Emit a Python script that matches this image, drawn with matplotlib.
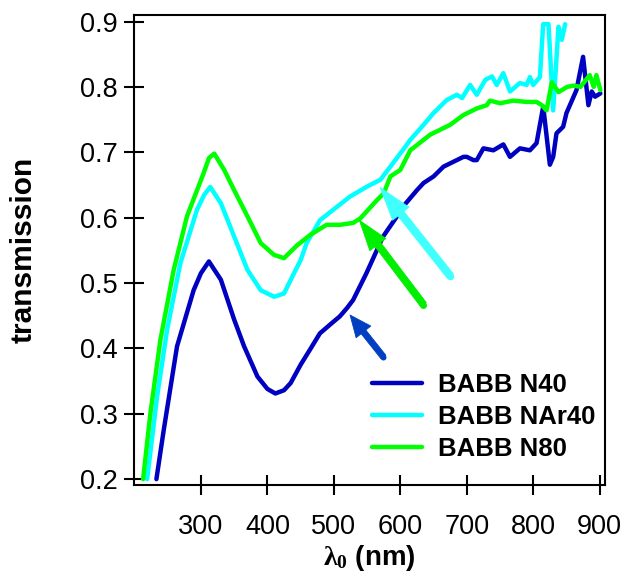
import matplotlib
matplotlib.use("Agg")
import matplotlib.pyplot as plt

plt.rcParams['font.family'] = ['Liberation Sans', 'DejaVu Sans']
plt.rcParams['mathtext.fontset'] = 'custom'
plt.rcParams['mathtext.bf'] = 'Liberation Serif:bold'
plt.rcParams['mathtext.rm'] = 'Liberation Serif'

# ---- data ----
n40_x = [233, 244, 264, 289, 300, 312, 330, 350, 365, 385, 400, 412, 425, 435, 450,
         464, 479, 495, 509, 520, 529, 549, 574, 595, 600, 625, 635, 650, 665, 675,
         685, 695, 700, 710, 715, 725, 740, 755, 765, 780, 795, 805, 815, 825, 830,
         835, 845, 850, 865, 875, 883, 888, 893, 901]
n40_y = [0.200, 0.275, 0.403, 0.489, 0.515, 0.533, 0.505, 0.444, 0.403, 0.357, 0.338,
         0.331, 0.336, 0.347, 0.375, 0.398, 0.423, 0.437, 0.449, 0.462, 0.474, 0.515,
         0.571, 0.602, 0.612, 0.642, 0.653, 0.663, 0.678, 0.683, 0.688, 0.693, 0.693,
         0.688, 0.688, 0.706, 0.703, 0.712, 0.693, 0.706, 0.703, 0.714, 0.770, 0.681,
         0.693, 0.729, 0.739, 0.760, 0.795, 0.846, 0.772, 0.793, 0.785, 0.790]

nar40_x = [219, 234, 249, 269, 294, 305, 314, 330, 350, 370, 390, 410, 425, 440, 450,
           459, 470, 479, 499, 524, 549, 570, 585, 605, 615, 635, 650, 670, 685, 693,
           705, 715, 728, 738, 745, 755, 765, 780, 790, 795, 800, 810, 815, 823, 830,
           838, 843, 848]
nar40_y = [0.200, 0.326, 0.428, 0.530, 0.612, 0.635, 0.647, 0.622, 0.571, 0.520, 0.489,
           0.479, 0.484, 0.515, 0.535, 0.561, 0.580, 0.596, 0.612, 0.632, 0.647, 0.658,
           0.678, 0.705, 0.719, 0.742, 0.760, 0.780, 0.788, 0.783, 0.803, 0.788, 0.811,
           0.816, 0.803, 0.821, 0.793, 0.806, 0.803, 0.815, 0.803, 0.815, 0.896, 0.896,
           0.764, 0.892, 0.872, 0.896]

n80_x = [213, 224, 239, 259, 279, 304, 312, 320, 335, 350, 370, 390, 410, 425, 445,
         465, 489, 509, 529, 540, 565, 575, 585, 600, 615, 645, 675, 695, 715, 730,
         735, 750, 770, 790, 805, 813, 820, 828, 838, 851, 861, 871, 885, 891, 895, 901]
n80_y = [0.200, 0.301, 0.413, 0.520, 0.602, 0.668, 0.691, 0.698, 0.673, 0.642, 0.602,
         0.561, 0.543, 0.538, 0.558, 0.574, 0.589, 0.589, 0.592, 0.599, 0.627, 0.637,
         0.663, 0.673, 0.703, 0.727, 0.742, 0.757, 0.767, 0.772, 0.779, 0.775, 0.779,
         0.777, 0.777, 0.772, 0.764, 0.807, 0.792, 0.800, 0.802, 0.800, 0.818, 0.800,
         0.818, 0.795]

labels = ["BABB N40", "BABB NAr40", "BABB N80"]
colors = ["#0000C0", "#00FFFF", "#00FF00"]

# arrows: (tail, tip)
arrow_tail = [(574.5, 0.387), (634.8, 0.467), (675, 0.511)]
arrow_tip = [(524.4, 0.451), (538.4, 0.596), (569.6, 0.646)]
arrow_colors = ["#0040C0", "#00EE00", "#40FFFF"]

x_ticks = [300, 400, 500, 600, 700, 800, 900]
y_ticks = [0.2, 0.3, 0.4, 0.5, 0.6, 0.7, 0.8, 0.9]

# ---- figure ----
fig = plt.figure(figsize=(6.22, 5.81), dpi=100)
ax = fig.add_axes([0.2162, 0.1652, 0.9727 - 0.2162, 0.9742 - 0.1652])

for xs, ys, lab, c in zip([n40_x, nar40_x, n80_x], [n40_y, nar40_y, n80_y], labels, colors):
    ax.plot(xs, ys, color=c, lw=3.2, label=lab, solid_joinstyle='round', solid_capstyle='round')

# (head_length, head_width, tail_width) in points per arrow
specs = [(15.5, 13.5, 4.3), (22.0, 14.5, 5.0), (24.0, 15.0, 5.4)]
for (t, h, c, (hl, hw, tw)) in zip(arrow_tail, arrow_tip, arrow_colors, specs):
    ax.annotate('', xy=h, xytext=t,
                arrowprops=dict(arrowstyle=f'simple,head_length={hl},head_width={hw},tail_width={tw}',
                                mutation_scale=1, lw=0.6, color=c, shrinkA=0, shrinkB=0,
                                joinstyle='round'))
    ax.plot([t[0]], [t[1]], marker='o', ms=tw, color=c, mew=0)

ax.set_xlim(200, 908)
ax.set_ylim(0.191, 0.910)
ax.set_xticks(x_ticks)
ax.set_yticks(y_ticks)
ax.set_yticklabels([f"{v:.1f}" for v in y_ticks])
ax.tick_params(direction='inout', length=14.4, width=1.5, labelsize=19.5, colors='black')
ax.tick_params(axis='x', pad=14)
ax.tick_params(axis='y', pad=5)
for s in ax.spines.values():
    s.set_linewidth(1.5)

ax.set_ylabel("transmission", fontsize=21.5, fontweight='bold', labelpad=30)
ax.set_xlabel(r"$\mathbf{λ_0}$" + " (nm)", fontsize=20, fontweight='bold', labelpad=2)

leg = ax.legend(loc='center left', bbox_to_anchor=(0.505, 0.1453), frameon=False,
                prop={'weight': 'bold', 'size': 18.5}, handlelength=1.95,
                handletextpad=0.62, labelspacing=0.32, borderpad=0, borderaxespad=0)

fig.savefig("out.png", dpi=100)
